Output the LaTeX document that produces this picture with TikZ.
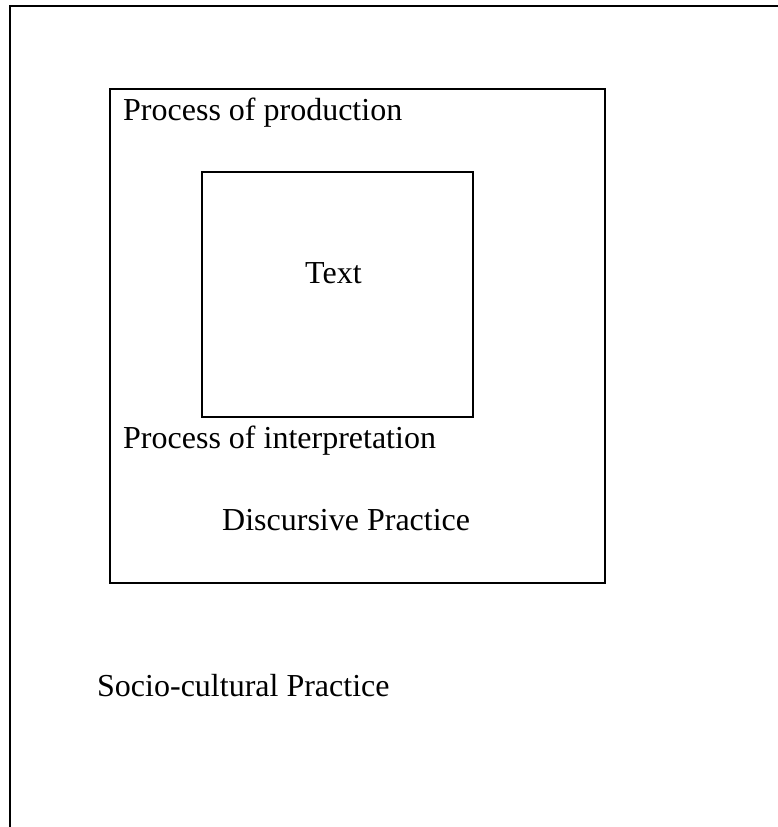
\documentclass[tikz,border=0pt]{standalone}
\usepackage{fontspec}
\setmainfont{Liberation Serif}
\tikzset{
  frame/.style={draw, line width=2pt},
  label/.style={anchor=base west, inner sep=0pt, font=\fontsize{32}{38}\selectfont}
}
\begin{document}
\begin{tikzpicture}[x=1pt,y=-1pt]
    \useasboundingbox (0,0) rectangle (778,827);

    % socio-cultural practice (open frame)
    \draw[frame] (10,830) -- (10,6) -- (781,6);
    % discursive practice
    \draw[frame] (110,89) rectangle (605,583);
    % text
    \draw[frame] (202,172) rectangle (473,417);

    \node[label] (prod) at (123,120) {Process of production};
    \node[label] (txt) at (305,283) {Text};
    \node[label] (interp) at (123,448) {Process of interpretation};
    \node[label] (disc) at (222,530) {Discursive Practice};
    \node[label] (socio) at (97,696) {Socio-cultural Practice};

\end{tikzpicture}
\end{document}
